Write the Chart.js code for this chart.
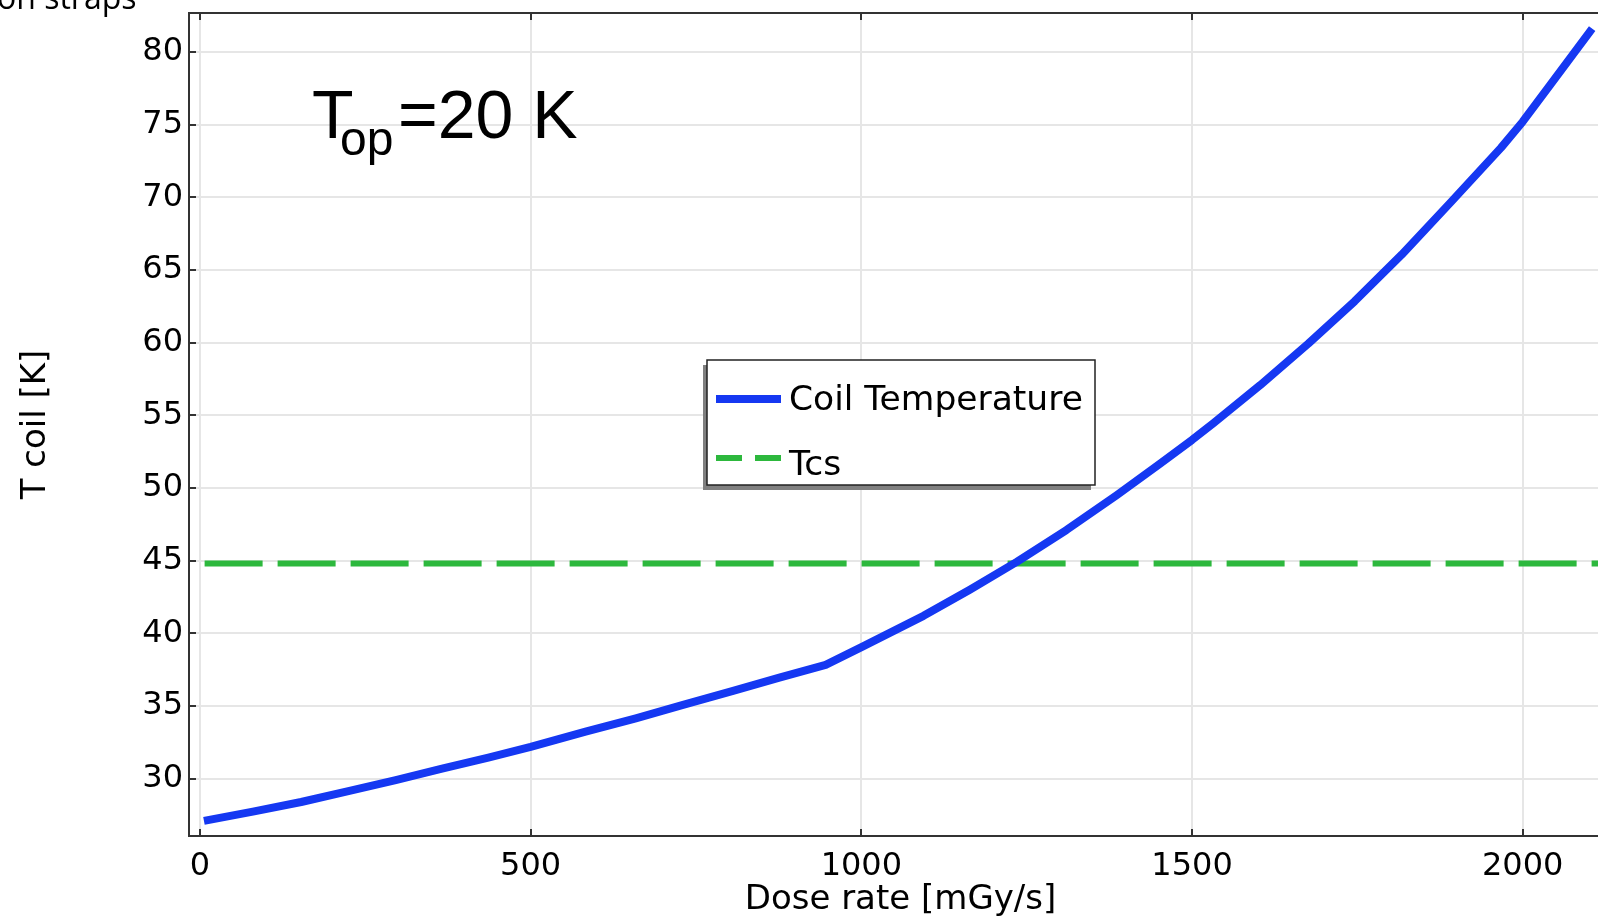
<!DOCTYPE html>
<html>
<head>
<meta charset="utf-8">
<script src="https://cdn.jsdelivr.net/npm/chart.js@4.4.1/dist/chart.umd.min.js"></script>
<style>
  html, body { margin: 0; padding: 0; background: #fff; overflow: hidden; }
  #wrap { width: 1612px; height: 916px; }
</style>
</head>
<body>
<div id="wrap"><canvas id="c" width="1612" height="916"></canvas></div>
<script>
// ---- Data ----
const doseRate = [6, 80, 153, 226, 296, 366, 436, 500, 583, 659, 729, 806, 876, 946,
                  1001, 1094, 1164, 1235, 1310, 1386, 1452, 1500, 1532, 1603, 1676,
                  1746, 1817, 1891, 1967, 2000, 2041, 2105];
const tCoil = [27.09, 27.73, 28.39, 29.15, 29.89, 30.69, 31.44, 32.18, 33.23, 34.15,
               35.05, 36.03, 36.95, 37.82, 39.06, 41.2, 43.0, 44.91, 47.1, 49.5,
               51.68, 53.3, 54.45, 57.07, 59.94, 62.85, 66.05, 69.65, 73.4, 75.2, 77.7, 81.6];
const tcsDose = [7, 2140];
const tcsTemp = [44.8, 44.8];
const xTicks = [0, 500, 1000, 1500, 2000];
const yTicks = [30, 35, 40, 45, 50, 55, 60, 65, 70, 75, 80];
const seriesNames = ['Coil Temperature', 'Tcs'];
const xTitle = 'Dose rate [mGy/s]';
const yTitle = 'T coil [K]';

const BLUE = '#1538f2';
const GREEN = '#2db83d';
const FONT = 'DejaVu Sans';

const overlay = {
  id: 'overlay',
  afterDraw(chart) {
    const ctx = chart.ctx;
    const a = chart.chartArea;
    const xs = chart.scales.x, ys = chart.scales.y;
    ctx.save();
    // top border
    ctx.strokeStyle = '#333';
    ctx.lineWidth = 2;
    ctx.beginPath();
    ctx.moveTo(a.left - 1, a.top);
    ctx.lineTo(a.right, a.top);
    ctx.stroke();
    // inner ticks
    xTicks.forEach(v => {
      const px = Math.round(xs.getPixelForValue(v));
      ctx.beginPath();
      ctx.moveTo(px, a.bottom); ctx.lineTo(px, a.bottom - 7);
      ctx.moveTo(px, a.top); ctx.lineTo(px, a.top + 7);
      ctx.stroke();
    });
    yTicks.forEach(v => {
      const py = Math.round(ys.getPixelForValue(v));
      ctx.beginPath();
      ctx.moveTo(a.left, py); ctx.lineTo(a.left + 7, py);
      ctx.stroke();
    });

    // legend box
    const bx = 707, by = 360, bw = 388, bh = 125;
    ctx.fillStyle = '#808080';
    ctx.fillRect(bx - 4, by + 5, bw, bh);
    ctx.fillStyle = '#fff';
    ctx.fillRect(bx, by, bw, bh);
    ctx.strokeStyle = '#222';
    ctx.lineWidth = 1.5;
    ctx.strokeRect(bx, by, bw, bh);
    // legend entries
    ctx.lineCap = 'butt';
    ctx.strokeStyle = BLUE;
    ctx.lineWidth = 8;
    ctx.beginPath(); ctx.moveTo(bx + 9, by + 39); ctx.lineTo(bx + 74, by + 39); ctx.stroke();
    ctx.strokeStyle = GREEN;
    ctx.lineWidth = 6;
    ctx.setLineDash([26, 13]);
    ctx.beginPath(); ctx.moveTo(bx + 9, by + 98); ctx.lineTo(bx + 74, by + 98); ctx.stroke();
    ctx.setLineDash([]);
    ctx.fillStyle = '#000';
    ctx.font = '34.5px "' + FONT + '"';
    ctx.textBaseline = 'alphabetic';
    ctx.textAlign = 'left';
    ctx.fillText(chart.data.datasets[0].label, bx + 82, by + 50);
    ctx.fillText(chart.data.datasets[1].label, bx + 82, by + 115);

    // annotation T_op = 20 K
    ctx.font = '68px "Liberation Sans"';
    ctx.fillText('T', 312, 138);
    ctx.font = '48px "Liberation Sans"';
    ctx.fillText('op', 340, 155);
    ctx.font = '68px "Liberation Sans"';
    ctx.fillText('=20 K', 398, 138);

    // partial text at top-left
    ctx.font = '32px "Open Sans"';
    ctx.fillText('on straps', -3, 9);
    ctx.restore();
  }
};

new Chart(document.getElementById('c'), {
  type: 'line',
  data: {
    datasets: [
      {
        label: seriesNames[0],
        data: doseRate.map((x, i) => ({ x, y: tCoil[i] })),
        borderColor: BLUE,
        borderWidth: 8,
        pointRadius: 0,
        tension: 0,
        borderCapStyle: 'butt',
        borderJoinStyle: 'round',
        fill: false
      },
      {
        label: seriesNames[1],
        data: tcsDose.map((x, i) => ({ x, y: tcsTemp[i] })),
        borderColor: GREEN,
        borderWidth: 6,
        borderDash: [58, 15],
        pointRadius: 0,
        tension: 0,
        borderCapStyle: 'butt',
        fill: false
      }
    ]
  },
  options: {
    responsive: false,
    animation: false,
    devicePixelRatio: 1,
    layout: { padding: { top: 13, left: 0, right: 0, bottom: 0 } },
    plugins: { legend: { display: false }, tooltip: { enabled: false } },
    scales: {
      x: {
        type: 'linear',
        min: -16.6,
        max: 2135,
        afterBuildTicks: s => { s.ticks = xTicks.map(v => ({ value: v })); },
        afterFit: s => { s.height = 80; s.paddingLeft = 0; s.paddingRight = 0; },
        grid: { color: '#e6e6e6', lineWidth: 2, drawTicks: false },
        border: { display: true, color: '#333', width: 2 },
        ticks: { font: { family: FONT, size: 32 }, color: '#000', padding: 11, maxRotation: 0, autoSkip: false,
                 callback: v => String(v) },
        title: { display: true, text: xTitle, font: { family: FONT, size: 34 }, color: '#000', padding: { top: 0, bottom: -5 } }
      },
      y: {
        type: 'linear',
        min: 26.05,
        max: 82.68,
        afterBuildTicks: s => { s.ticks = yTicks.map(v => ({ value: v })); },
        afterFit: s => { s.width = 189; s.paddingTop = 0; s.paddingBottom = 0; },
        grid: { color: '#e6e6e6', lineWidth: 2, drawTicks: false },
        border: { display: true, color: '#333', width: 2 },
        ticks: { font: { family: FONT, size: 32 }, color: '#000', padding: 6, autoSkip: false,
                 callback: v => String(v) },
        title: { display: true, text: yTitle, font: { family: FONT, size: 34 }, color: '#000', padding: { top: 16, bottom: 0 } }
      }
    }
  },
  plugins: [overlay]
});
</script>
</body>
</html>
